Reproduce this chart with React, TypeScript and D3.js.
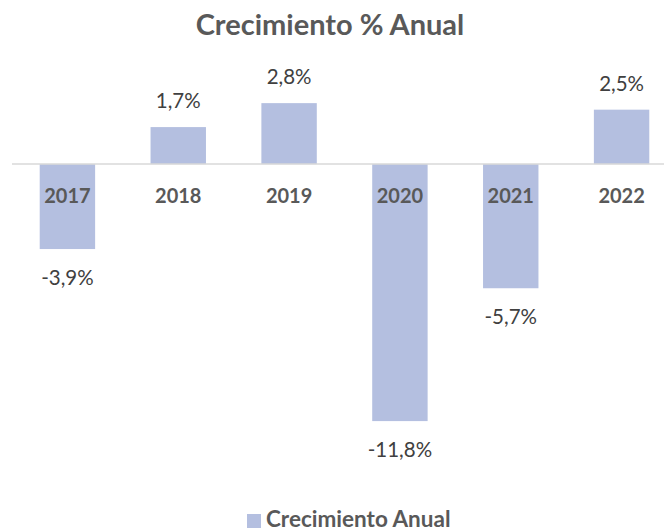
import React from "react";
import { scaleBand, scaleLinear } from "d3";

const years = ["2017", "2018", "2019", "2020", "2021", "2022"];
const growth = [-3.9, 1.7, 2.8, -11.8, -5.7, 2.5];
const seriesName = "Crecimiento Anual";
const title = "Crecimiento % Anual";

const width = 664;
const height = 530;
const font = "Lato, 'Open Sans', sans-serif";

const fmt = (v: number) => v.toFixed(1).replace(".", ",") + "%";

const App = () => {
  const xScale = scaleBand<string>()
    .domain(years)
    .range([12, 677])
    .paddingInner(0.5)
    .paddingOuter(0.25);

  const yScale = scaleLinear().domain([-14, 4]).range([469, 77]);
  const y0 = yScale(0);

  return (
    <svg
      width={width}
      height={height}
      style={{ position: "absolute", left: 0, top: 0, fontFamily: font }}
    >
      <rect width={width} height={height} fill="white" />
      <text x={330} y={35} textAnchor="middle" fontSize={29} fontWeight="bold" fill="#595959">
        {title}
      </text>

      {years.map((yr, i) => {
        const v = growth[i];
        const x = xScale(yr)!;
        const bw = xScale.bandwidth();
        const top = Math.min(yScale(v), y0);
        const h = Math.abs(yScale(v) - y0);
        return (
          <g key={yr}>
            <rect x={x} y={top} width={bw} height={h} fill="#b4bfe0" />
            <text
              x={x + bw / 2}
              y={v >= 0 ? yScale(v) - 19 : yScale(v) + 36}
              textAnchor="middle"
              fontSize={20.5}
              fill="#404040"
            >
              {fmt(v)}
            </text>
          </g>
        );
      })}

      <line x1={12} x2={664} y1={y0} y2={y0} stroke="#d9d9d9" strokeWidth={1.5} />

      {years.map(yr => (
        <text
          key={"c" + yr}
          x={xScale(yr)! + xScale.bandwidth() / 2}
          y={203}
          textAnchor="middle"
          fontSize={20}
          fontWeight="bold"
          fill="#595959"
        >
          {yr}
        </text>
      ))}

      <rect x={247} y={514} width={14} height={14} fill="#b4bfe0" />
      <text x={266} y={527} fontSize={22.5} fontWeight="bold" fill="#595959">
        {seriesName}
      </text>
    </svg>
  );
};

export default App;
